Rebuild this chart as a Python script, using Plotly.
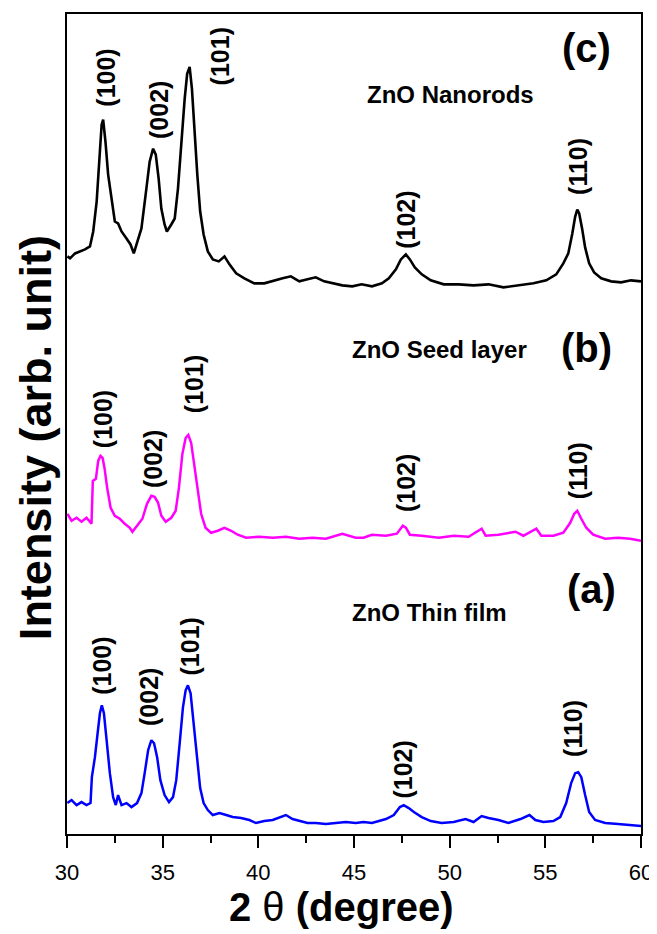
import plotly.graph_objects as go

# ---- data (2θ in degrees, intensity in arbitrary units) ----
theta_a = [30.02, 30.24, 30.5, 30.76, 31.02, 31.23, 31.3, 31.46, 31.6, 31.72, 31.82, 31.93, 32.07, 32.24, 32.41, 32.55, 32.67, 32.85, 33.11, 33.37, 33.66, 33.89, 34.06, 34.24, 34.41, 34.55, 34.71, 34.88, 35.1, 35.33, 35.54, 35.71, 35.89, 36.06, 36.2, 36.32, 36.46, 36.61, 36.79, 36.96, 37.14, 37.36, 37.62, 37.97, 38.32, 38.66, 39.1, 39.53, 39.88, 40.31, 40.75, 41.18, 41.44, 41.79, 42.14, 42.57, 43.0, 43.53, 44.05, 44.57, 45.09, 45.5, 45.94, 46.67, 47.08, 47.4, 47.6, 47.86, 48.13, 48.54, 49.01, 49.58, 50.21, 50.83, 51.25, 51.67, 52.03, 52.55, 53.07, 53.7, 54.17, 54.48, 54.9, 55.42, 55.78, 56.09, 56.35, 56.56, 56.72, 56.88, 57.08, 57.29, 57.6, 58.13, 58.8, 59.43, 60.0]
int_a = [31, 34, 29, 32, 29, 31, 57, 77, 101, 121, 129, 121, 94, 61, 37, 29, 39, 29, 31, 27, 31, 41, 61, 84, 94, 91, 77, 54, 39, 32, 37, 54, 91, 127, 144, 149, 141, 111, 74, 46, 31, 24, 19, 21, 19, 17, 16, 14, 11, 13, 14, 17, 19, 15, 13, 11, 11, 10, 11, 12, 11, 12, 11, 15, 19, 27, 29, 26, 22, 17, 13, 11, 12, 15, 12, 18, 16, 14, 11, 15, 19, 14, 12, 13, 17, 31, 51, 61, 62, 57, 39, 22, 14, 11, 10, 9, 8]

theta_b = [30.02, 30.24, 30.5, 30.76, 31.02, 31.28, 31.35, 31.51, 31.63, 31.75, 31.86, 31.96, 32.1, 32.28, 32.5, 32.76, 33.02, 33.28, 33.42, 33.66, 33.94, 34.18, 34.41, 34.58, 34.76, 34.93, 35.16, 35.45, 35.68, 35.85, 36.03, 36.2, 36.34, 36.49, 36.67, 36.84, 37.01, 37.24, 37.53, 37.88, 38.23, 38.58, 38.92, 39.36, 40.05, 40.75, 41.44, 42.14, 42.83, 43.53, 44.39, 45.09, 45.5, 45.94, 46.67, 47.24, 47.55, 47.71, 47.92, 48.54, 49.43, 50.21, 50.99, 51.67, 51.88, 52.55, 53.44, 53.85, 54.53, 54.79, 55.42, 55.94, 56.3, 56.51, 56.67, 56.88, 57.14, 57.5, 58.13, 58.8, 59.43, 60.0]
int_b = [321, 314, 317, 313, 317, 311, 354, 356, 374, 379, 377, 367, 347, 327, 319, 316, 311, 307, 303, 309, 316, 331, 339, 338, 332, 319, 313, 317, 324, 347, 381, 397, 400, 392, 367, 341, 321, 307, 302, 304, 307, 304, 300, 297, 298, 297, 298, 296, 297, 296, 301, 297, 297, 300, 299, 301, 309, 307, 300, 299, 297, 299, 298, 306, 299, 300, 303, 299, 306, 299, 299, 302, 312, 321, 324, 316, 307, 300, 296, 297, 296, 294]

theta_c = [30.02, 30.16, 30.42, 30.68, 30.94, 31.2, 31.37, 31.55, 31.68, 31.81, 31.89, 32.01, 32.15, 32.33, 32.5, 32.67, 32.85, 33.11, 33.32, 33.49, 33.66, 33.89, 34.11, 34.32, 34.5, 34.64, 34.79, 34.93, 35.1, 35.22, 35.45, 35.63, 35.8, 35.97, 36.15, 36.28, 36.41, 36.53, 36.67, 36.81, 36.96, 37.14, 37.36, 37.62, 37.93, 38.23, 38.49, 38.84, 39.27, 39.79, 40.31, 40.83, 41.27, 41.7, 42.14, 42.57, 43.0, 43.44, 43.87, 44.39, 44.91, 45.4, 45.94, 46.46, 46.82, 47.19, 47.45, 47.71, 47.92, 48.18, 48.54, 49.01, 49.69, 50.47, 51.25, 52.03, 52.81, 53.59, 54.38, 55.05, 55.57, 55.94, 56.2, 56.41, 56.56, 56.67, 56.77, 56.93, 57.08, 57.29, 57.55, 57.92, 58.44, 58.96, 59.48, 60.0]
int_c = [579, 577, 582, 584, 586, 589, 604, 634, 674, 711, 716, 694, 661, 634, 614, 612, 604, 597, 591, 582, 592, 607, 641, 674, 687, 681, 657, 627, 611, 604, 611, 617, 647, 694, 737, 762, 769, 747, 701, 661, 624, 601, 584, 576, 574, 579, 571, 562, 557, 552, 552, 555, 557, 559, 554, 556, 558, 554, 552, 550, 549, 551, 549, 552, 557, 566, 576, 581, 576, 568, 561, 555, 551, 551, 550, 551, 548, 550, 552, 555, 561, 572, 582, 602, 619, 626, 622, 606, 588, 572, 563, 557, 554, 553, 555, 554]

peak_labels = ["(100)", "(002)", "(101)", "(102)", "(110)"]
label_theta_a = [31.85, 34.32, 36.43, 47.58, 56.48]
label_int_a = [169, 137, 188, 65, 106]
label_theta_b = [31.89, 34.50, 36.64, 47.73, 56.72]
label_int_b = [416, 376, 451, 352, 364]
label_theta_c = [32.03, 34.82, 37.97, 47.68, 56.67]
label_int_c = [758, 726, 780, 616, 669]

sample_names = ["ZnO Thin film", "ZnO Seed layer", "ZnO Nanorods"]
sample_tags = ["(a)", "(b)", "(c)"]
name_theta = [48.96, 49.48, 50.05]
name_int = [222, 486, 741]
tag_theta = [57.40, 57.14, 57.14]
tag_int = [246, 487, 788]

x_ticks = [30, 35, 40, 45, 50, 55, 60]

FONT = "Liberation Sans, Arial, sans-serif"

fig = go.Figure()
fig.add_trace(go.Scatter(x=theta_a, y=int_a, mode="lines",
                         line=dict(color="#0000ff", width=2.5), showlegend=False))
fig.add_trace(go.Scatter(x=theta_b, y=int_b, mode="lines",
                         line=dict(color="#ff00ff", width=2.5), showlegend=False))
fig.add_trace(go.Scatter(x=theta_c, y=int_c, mode="lines",
                         line=dict(color="#000000", width=2.6), showlegend=False))

annotations = []
for xs, ys in [(label_theta_a, label_int_a), (label_theta_b, label_int_b), (label_theta_c, label_int_c)]:
    for lab, xv, yv in zip(peak_labels, xs, ys):
        annotations.append(dict(x=xv, y=yv, xref="x", yref="y", text="<b>%s</b>" % lab,
                                textangle=-90, showarrow=False,
                                font=dict(family=FONT, size=25, color="black")))
for nm, xv, yv in zip(sample_names, name_theta, name_int):
    annotations.append(dict(x=xv, y=yv, xref="x", yref="y", text="<b>%s</b>" % nm,
                            showarrow=False, font=dict(family=FONT, size=24, color="black")))
for tg, xv, yv in zip(sample_tags, tag_theta, tag_int):
    annotations.append(dict(x=xv, y=yv, xref="x", yref="y", text="<b>%s</b>" % tg,
                            showarrow=False, font=dict(family=FONT, size=40, color="black")))

# axis titles
annotations.append(dict(x=(343 - 67) / 577, y=-(907 - 834) / 822, xref="paper", yref="paper",
                        xanchor="center", yanchor="middle",
                        text="<b>2</b> θ <b>(degree)</b>", showarrow=False,
                        font=dict(family=FONT, size=40, color="black")))
annotations.append(dict(x=-(67 - 36) / 577, y=(834 - 437) / 822, xref="paper", yref="paper",
                        xanchor="center", yanchor="middle",
                        text="<b>Intensity (arb. unit)</b>", textangle=-90, showarrow=False,
                        font=dict(family=FONT, size=45, color="black")))

# the page body adds an 8px offset, so the figure is sized to fit the 657x934 window
fig.update_layout(
    width=649, height=926,
    margin=dict(l=59, r=13, t=4, b=100),
    paper_bgcolor="white", plot_bgcolor="white",
    annotations=annotations,
    xaxis=dict(range=[30, 60], tickvals=x_ticks, ticks="outside", ticklen=12, tickwidth=2,
               tickcolor="black", showline=True, linecolor="black", linewidth=2, mirror=True,
               showgrid=False, zeroline=False, ticklabelstandoff=6,
               tickfont=dict(family=FONT, size=22, color="black"),
               minor=dict(dtick=2.5, ticks="outside", ticklen=7, tickwidth=2, tickcolor="black", showgrid=False)),
    yaxis=dict(range=[0, 822], showticklabels=False, ticks="", showline=True, linecolor="black",
               linewidth=2, mirror=True, showgrid=False, zeroline=False),
)

fig.write_html("out.html")
